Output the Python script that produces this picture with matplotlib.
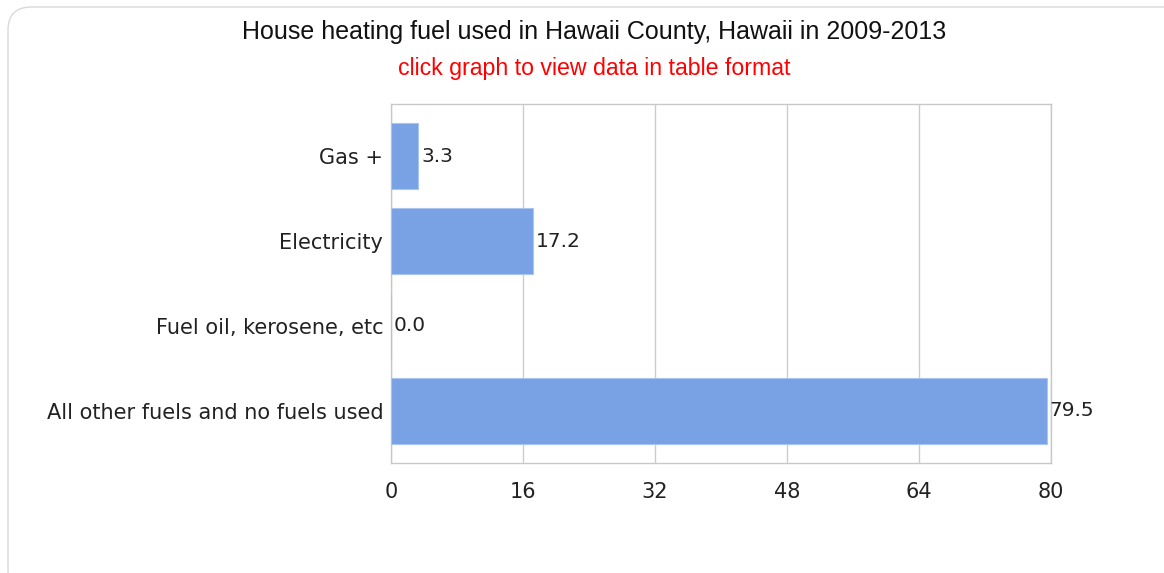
import matplotlib
matplotlib.use("Agg")
import matplotlib.pyplot as plt
from matplotlib.patches import FancyBboxPatch

categories = ["Gas +", "Electricity", "Fuel oil, kerosene, etc", "All other fuels and no fuels used"]
values = [3.3, 17.2, 0.0, 79.5]
value_labels = ["3.3", "17.2", "0.0", "79.5"]
xticks = [0, 16, 32, 48, 64, 80]
title = "House heating fuel used in Hawaii County, Hawaii in 2009-2013"
subtitle = "click graph to view data in table format"

W, H = 1164, 573
fig = plt.figure(figsize=(W / 100, H / 100), dpi=100)
fig.patch.set_facecolor("white")

# outer rounded box
box = FancyBboxPatch((8 / W, -20 / H), (W + 30) / W, (H - 7 + 20) / H,
                     boxstyle="round,pad=0,rounding_size=0.02",
                     transform=fig.transFigure, facecolor="white",
                     edgecolor="#d9d9d9", linewidth=1.0, mutation_aspect=W / H,
                     zorder=-10)
fig.patches.append(box)

left, right, top, bottom = 391, 1051, 104, 463
ax = fig.add_axes([left / W, 1 - bottom / H, (right - left) / W, (bottom - top) / H])
ax.set_zorder(5)
ax.set_facecolor("white")

y = list(range(len(categories)))
ax.barh(y, values, height=0.78, color="#78a2e4", edgecolor="#a9c4f0", linewidth=0.8, zorder=3)
ax.set_ylim(3.5 + 0.118, -0.5 - 0.118)
ax.set_xlim(0, 80)
ax.set_xticks(xticks)
ax.set_xticklabels([str(t) for t in xticks])
ax.set_yticks(y)
ax.set_yticklabels(categories)
ax.tick_params(axis="both", length=0, labelsize=15, labelcolor="#222222")
ax.tick_params(axis="y", pad=5.5)
ax.tick_params(axis="x", pad=13.5)
ax.grid(axis="x", color="#cccccc", linewidth=1.0, zorder=0)
for s in ax.spines.values():
    s.set_color("#c8c8c8")
    s.set_linewidth(1.0)

for yi, v, lab in zip(y, values, value_labels):
    ax.annotate(lab, (v, yi), xytext=(2, 0), textcoords="offset points",
                ha="left", va="center", fontsize=14.5, color="#222222", zorder=4)

fig.text(594 / W, 1 - 32 / H, title, ha="center", va="center",
         fontsize=18, family="Liberation Sans", color="#111111", zorder=6)
fig.text(594 / W, 1 - 68 / H, subtitle, ha="center", va="center",
         fontsize=16.7, family="Liberation Sans", color="#ff0000", zorder=6)

fig.savefig("out.png", dpi=100, facecolor="white")
